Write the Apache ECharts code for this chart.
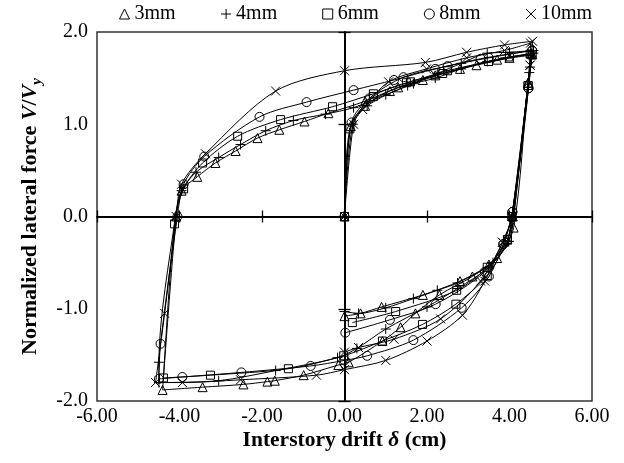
<!DOCTYPE html>
<html>
<head>
<meta charset="utf-8">
<script src="https://cdn.jsdelivr.net/npm/echarts@6/dist/echarts.min.js"></script>
<style>
  html, body { margin: 0; padding: 0; background: #fff; }
  #hysteresis-chart { width: 624px; height: 463px; }
</style>
</head>
<body>
<div id="hysteresis-chart"></div>
<script>
// legend names (gap size)
const seriesNames = ['3mm', '4mm', '6mm', '8mm', '10mm'];

// [drift (cm), V/Vy], in loading order
const s3mm = [
	[0,0],[0.15,0.98],[0.5,1.2],[1.1,1.36],[1.9,1.48],[2.8,1.6],[3.7,1.7],[4.55,1.76],
	[4.45,1.45],[4.1,-0.12],[3.7,-0.45],[3.1,-0.65],[2.3,-0.85],[1.72,-1.05],[1.36,-1.2],[0.92,-1.35],[0.1,-1.58],[-0.15,-1.61],[-0.99,-1.72],[-1.69,-1.78],[-1.87,-1.79],[-2.45,-1.82],[-3.44,-1.85],[-4.41,-1.88],
	[-4.08,0],[-3.95,0.28],[-3.57,0.43],[-3.13,0.58],[-2.64,0.71],[-2.11,0.85],[-1.58,0.94],[-0.97,1.03],[-0.39,1.12],[0.5,1.25],[1.3,1.4],[2.2,1.53],[3.2,1.64],[4.0,1.72],[4.52,1.77],
	[4.45,1.45],[4.08,0],[3.95,-0.25],[3.5,-0.52],[2.8,-0.7],[1.9,-0.85],[0.9,-0.98],[0.39,-1.05],[0,-1.08]
];
const s4mm = [
	[0,0],[0.2,1.0],[0.55,1.2],[1.53,1.42],[2.2,1.5],[2.83,1.6],[3.46,1.68],[3.9,1.72],[4.58,1.77],
	[4.5,1.62],[4.1,0],[3.98,-0.27],[3.5,-0.55],[2.74,-0.78],[2.0,-0.98],[1.0,-1.22],[0.3,-1.43],[-0.17,-1.53],[-1.67,-1.67],[-3.05,-1.78],[-4.5,-1.8],
	[-4.5,-1.58],[-4.1,0],[-3.95,0.28],[-3.6,0.48],[-3.05,0.64],[-2.52,0.78],[-1.91,0.93],[-1.24,1.04],[-0.46,1.11],[0.22,1.18],[1.0,1.32],[1.67,1.44],[2.25,1.55],[2.83,1.66],[3.46,1.77],[4.0,1.78],[4.58,1.8],
	[4.48,1.56],[4.1,0],[3.98,-0.27],[3.6,-0.5],[2.74,-0.72],[2.25,-0.8],[1.67,-0.89],[1.0,-0.99],[0.34,-1.05],[0,-1.03]
];
const s6mm = [
	[0,0],[0.13,0.95],[0.7,1.3],[1.5,1.45],[2.38,1.55],[3.49,1.68],[4.55,1.75],
	[4.45,1.42],[4.06,0],[3.95,-0.25],[3.46,-0.64],[2.7,-0.95],[1.89,-1.17],[0.92,-1.35],[-0.02,-1.51],[-1.36,-1.65],[-3.25,-1.72],[-4.39,-1.75],
	[-4.12,-0.08],[-3.9,0.3],[-3.44,0.58],[-2.59,0.87],[-1.55,1.05],[-0.29,1.19],[0.7,1.33],[1.6,1.46],[2.5,1.58],[3.49,1.68],[4.0,1.73],[4.5,1.76],
	[4.45,1.42],[4.06,0],[3.95,-0.25],[3.46,-0.55],[2.72,-0.8],[1.24,-1.03],[0.19,-1.15]
];
const s8mm = [
	[0,0],[0.17,1.02],[0.6,1.28],[1.43,1.51],[2.5,1.63],[3.5,1.72],[4.55,1.8],
	[4.46,1.39],[4.07,0.05],[3.85,-0.3],[3.5,-0.65],[2.84,-0.99],[1.67,-1.34],[0.55,-1.51],[0,-1.56],[-0.82,-1.62],[-2.5,-1.69],[-3.93,-1.74],[-4.5,-1.76],
	[-4.46,-1.38],[-4.05,0],[-3.9,0.35],[-3.4,0.65],[-2.06,1.08],[-0.92,1.24],[0.22,1.37],[1.2,1.48],[2.2,1.6],[3.3,1.71],[4.55,1.8],
	[4.46,1.39],[4.07,0.05],[3.85,-0.3],[3.4,-0.6],[2.21,-0.95],[1.1,-1.12],[0.02,-1.26]
];
const s10mm = [
	[0,0],[0.22,1.0],[0.44,1.16],[1.07,1.46],[1.99,1.6],[2.96,1.72],[3.88,1.8],[4.51,1.88],
	[4.5,1.64],[4.06,0],[3.83,-0.28],[3.4,-0.7],[2.86,-1.07],[2.0,-1.35],[1.0,-1.56],[0,-1.66],[-0.68,-1.72],[-2.52,-1.77],[-3.93,-1.8],[-4.58,-1.8],
	[-4.36,-1.05],[-4.08,0],[-3.95,0.35],[-3.37,0.68],[-1.67,1.36],[0,1.58],[1.96,1.67],[2.96,1.78],[3.88,1.86],[4.56,1.9],
	[4.5,1.64],[4.06,0],[3.83,-0.28],[3.3,-0.7],[2.33,-1.11],[1.2,-1.33],[0.34,-1.42],[0,-1.47]
];

const plusPath = 'path://M5,0L5,10M0,5L10,5';
const crossPath = 'path://M0,0L10,10M10,0L0,10';
const symbols = ['triangle', plusPath, 'rect', 'circle', crossPath];
const symbolSizes = [9, 10, 8, 9, 9];
const allData = [s3mm, s4mm, s6mm, s8mm, s10mm];

const serif = 'Liberation Serif';

let chart = echarts.init(document.getElementById('hysteresis-chart'));

// axis used only for the thick zero line + crossing ticks
function zeroAxis(pos, min, max, interval, inside) {
	return {
		type: 'value',
		position: pos,
		min: min, max: max, interval: interval,
		axisLine: { show: !inside, onZero: true, onZeroAxisIndex: 0, lineStyle: { color: '#000', width: 2 } },
		axisTick: { show: true, inside: inside, length: 6, lineStyle: { color: '#000', width: 1.3 } },
		axisLabel: { show: false },
		splitLine: { show: false }
	};
}

chart.setOption({
	animation: false,
	backgroundColor: '#fff',
	legend: {
		data: seriesNames.map((n, i) => ({ name: n, icon: symbols[i] })),
		left: 119,
		top: 4,
		padding: 0,
		itemWidth: 10,
		itemHeight: 10,
		itemGap: 45,
		itemStyle: { color: 'rgba(0,0,0,0)', borderColor: '#000', borderWidth: 1 },
		textStyle: { fontFamily: serif, fontSize: 20, color: '#000' }
	},
	grid: {
		left: 97, right: 32, top: 32, bottom: 62,
		show: true,
		borderColor: '#333',
		borderWidth: 1.5,
		outerBoundsMode: 'none'
	},
	xAxis: [
		{
			type: 'value',
			min: -6, max: 6, interval: 2,
			position: 'bottom',
			axisLine: { show: false, onZero: false },
			axisTick: { show: false },
			splitLine: { show: false },
			axisLabel: {
				margin: 6,
				fontFamily: serif, fontSize: 20, color: '#000',
				formatter: v => v.toFixed(2)
			},
			name: '{b|Interstory drift }{i|δ}{b| (cm)}',
			nameLocation: 'middle',
			nameGap: 28,
			nameMoveOverlap: false,
			nameTextStyle: {
				fontFamily: serif, fontSize: 21.5, fontWeight: 'bold', color: '#000',
				rich: {
					b: { fontFamily: serif, fontSize: 21.5, fontWeight: 'bold', color: '#000' },
					i: { fontFamily: serif, fontSize: 21.5, fontWeight: 'bold', fontStyle: 'italic', color: '#000' }
				}
			}
		},
		zeroAxis('bottom', -6, 6, 2, false),
		zeroAxis('bottom', -6, 6, 2, true)
	],
	yAxis: [
		{
			type: 'value',
			min: -2, max: 2, interval: 1,
			position: 'left',
			axisLine: { show: false, onZero: false },
			axisTick: { show: false },
			splitLine: { show: false },
			axisLabel: {
				margin: 9,
				fontFamily: serif, fontSize: 20, color: '#000',
				formatter: v => v.toFixed(1)
			},
			name: '{b|Normalized lateral force }{i|V}{b|/}{i|V}{s|y}',
			nameLocation: 'middle',
			nameRotate: 90,
			nameGap: 52,
			nameMoveOverlap: false,
			nameTextStyle: {
				fontFamily: serif, fontSize: 22, fontWeight: 'bold', color: '#000',
				rich: {
					b: { fontFamily: serif, fontSize: 22, fontWeight: 'bold', color: '#000', lineHeight: 30 },
					i: { fontFamily: serif, fontSize: 22, fontWeight: 'bold', fontStyle: 'italic', color: '#000', lineHeight: 30 },
					s: { fontFamily: serif, fontSize: 15, fontWeight: 'bold', fontStyle: 'italic', color: '#000', lineHeight: 14, verticalAlign: 'bottom' }
				}
			}
		},
		zeroAxis('left', -2, 2, 1, false),
		zeroAxis('left', -2, 2, 1, true)
	],
	series: allData.map((d, i) => ({
		name: seriesNames[i],
		type: 'line',
		xAxisIndex: 0,
		yAxisIndex: 0,
		data: d,
		smooth: 0.3,
		symbol: symbols[i],
		symbolSize: symbolSizes[i],
		showAllSymbol: true,
		lineStyle: { color: '#000', width: 1 },
		itemStyle: { color: 'rgba(0,0,0,0)', borderColor: '#000', borderWidth: 1 },
		emphasis: { disabled: true }
	}))
});
</script>
</body>
</html>
